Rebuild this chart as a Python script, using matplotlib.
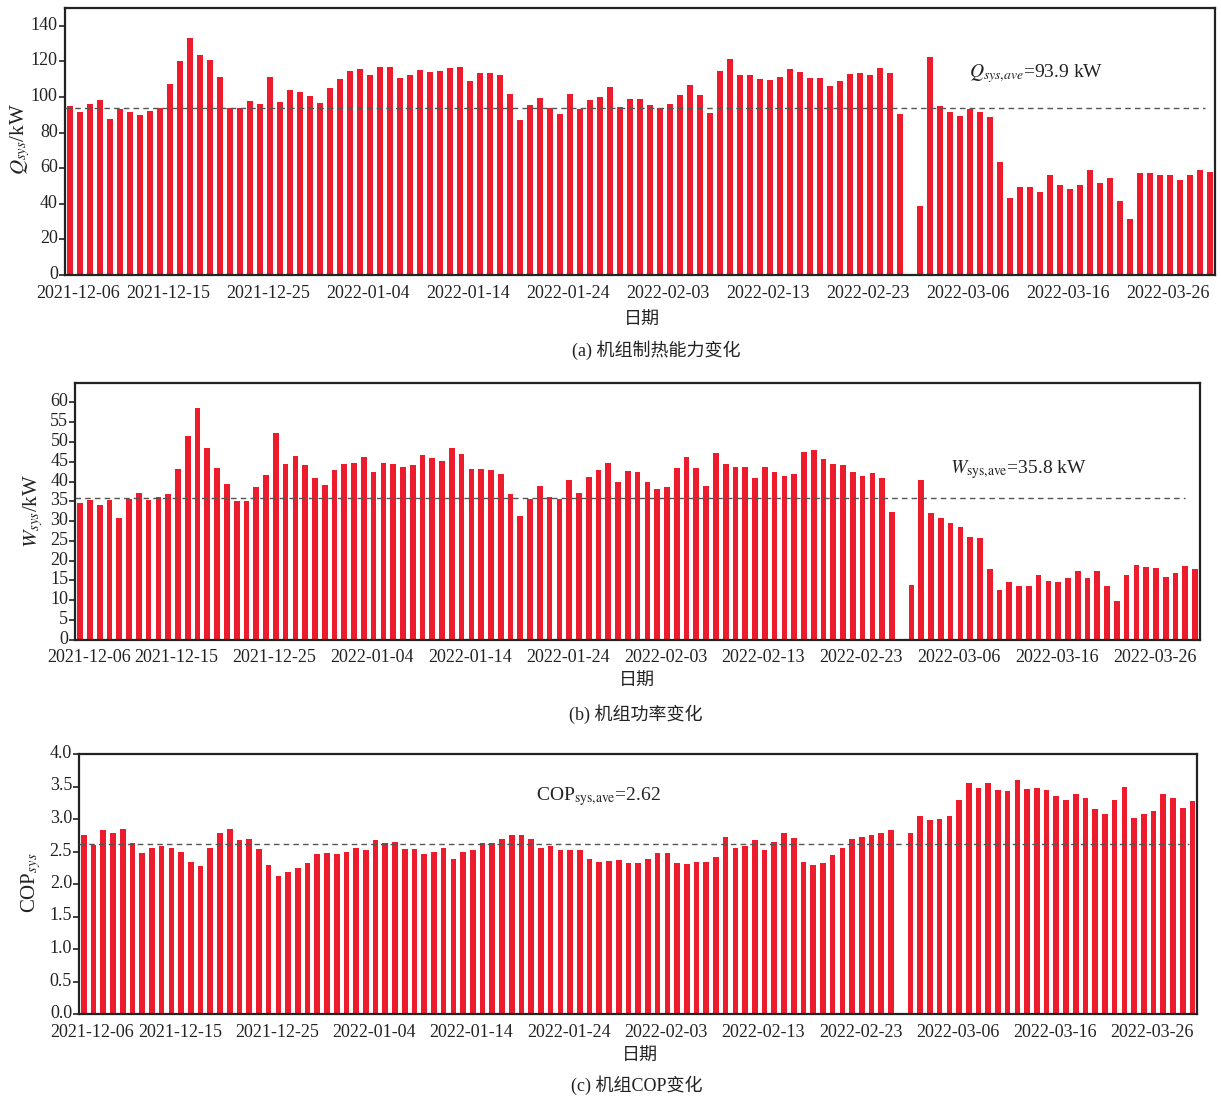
import numpy as np
import matplotlib
matplotlib.use("Agg")
import matplotlib.pyplot as plt
from matplotlib.transforms import ScaledTranslation

nan = np.nan

# Daily unit heating capacity (kW); the missing day is left empty
q_sys = [95.2, 91.7, 96.0, 98.4, 87.7, 93.3, 91.5, 89.8, 92.4, 94.1,
         107.1, 120.0, 133.1, 123.4, 120.8, 111.4, 93.9, 93.9, 97.8, 96.0,
         111.4, 97.4, 104.2, 102.9, 100.6, 96.7, 105.3, 110.3, 114.6, 115.7,
         112.6, 117.0, 117.0, 110.7, 112.2, 115.0, 113.9, 114.6, 116.1, 117.0,
         109.0, 113.3, 113.3, 112.6, 101.9, 86.8, 95.6, 99.7, 94.1, 90.2,
         101.9, 93.1, 98.2, 100.1, 105.8, 94.6, 98.9, 98.9, 95.4, 93.9,
         96.0, 101.0, 107.0, 101.0, 91.1, 114.4, 121.1, 112.2, 112.6, 110.1,
         109.8, 111.4, 115.5, 114.1, 110.9, 110.5, 106.4, 109.0, 112.9, 113.5,
         112.6, 116.3, 113.5, 90.5, nan, 38.6, 122.6, 95.2, 91.7, 89.6,
         93.5, 91.7, 88.9, 63.7, 43.1, 49.5, 49.5, 46.5, 56.0, 50.8,
         48.5, 50.8, 59.0, 51.5, 54.3, 41.4, 31.7, 57.1, 57.1, 56.0,
         56.4, 53.6, 56.0, 59.0, 58.1]

# Daily unit power input (kW)
w_sys = [34.6, 35.3, 34.0, 35.4, 30.9, 35.6, 37.1, 35.3, 36.1, 36.8,
         43.1, 51.4, 58.7, 48.5, 43.5, 39.4, 35.2, 35.1, 38.6, 41.6,
         52.4, 44.4, 46.5, 44.1, 41.0, 39.1, 42.8, 44.4, 44.7, 46.1,
         42.3, 44.6, 44.4, 43.6, 44.2, 46.7, 45.9, 45.2, 48.5, 47.0,
         43.1, 43.1, 43.0, 41.8, 36.9, 31.4, 35.6, 38.9, 36.2, 35.7,
         40.3, 37.1, 41.2, 42.8, 44.7, 39.9, 42.6, 42.3, 39.9, 38.1,
         38.7, 43.5, 46.2, 43.3, 38.9, 47.2, 44.4, 43.6, 43.7, 41.0,
         43.6, 42.3, 41.5, 42.0, 47.4, 47.9, 45.8, 44.4, 44.2, 42.4,
         41.5, 42.1, 40.9, 32.3, nan, 13.8, 40.4, 32.0, 30.7, 29.6,
         28.5, 25.9, 25.7, 18.0, 12.6, 14.6, 13.7, 13.5, 16.3, 14.8,
         14.6, 15.5, 17.5, 15.6, 17.3, 13.5, 9.7, 16.4, 19.0, 18.4,
         18.2, 15.9, 16.9, 18.7, 17.9]

# Daily unit COP
cop_sys = [2.76, 2.60, 2.83, 2.78, 2.84, 2.63, 2.48, 2.56, 2.58, 2.56,
           2.49, 2.34, 2.27, 2.55, 2.78, 2.84, 2.67, 2.69, 2.54, 2.30,
           2.13, 2.19, 2.24, 2.33, 2.46, 2.47, 2.46, 2.49, 2.56, 2.52,
           2.67, 2.63, 2.64, 2.54, 2.54, 2.46, 2.49, 2.55, 2.39, 2.50,
           2.53, 2.63, 2.63, 2.69, 2.75, 2.75, 2.69, 2.56, 2.58, 2.53,
           2.53, 2.52, 2.38, 2.34, 2.36, 2.37, 2.32, 2.33, 2.38, 2.47,
           2.48, 2.32, 2.31, 2.34, 2.34, 2.42, 2.72, 2.56, 2.58, 2.68,
           2.52, 2.64, 2.78, 2.71, 2.34, 2.29, 2.32, 2.45, 2.55, 2.69,
           2.72, 2.76, 2.78, 2.83, nan, 2.79, 3.05, 2.98, 3.00, 3.04,
           3.30, 3.55, 3.47, 3.55, 3.44, 3.43, 3.60, 3.46, 3.47, 3.45,
           3.36, 3.30, 3.38, 3.32, 3.15, 3.08, 3.30, 3.50, 3.01, 3.07,
           3.12, 3.38, 3.33, 3.17, 3.27]

# Period averages
q_ave = 93.9
w_ave = 35.8
cop_ave = 2.62

date_labels = ['2021-12-06', '2021-12-15', '2021-12-25', '2022-01-04',
               '2022-01-14', '2022-01-24', '2022-02-03', '2022-02-13',
               '2022-02-23', '2022-03-06', '2022-03-16', '2022-03-26']
date_ticks = [0, 9, 19, 29, 39, 49, 59, 69, 79, 89, 99, 109]

plt.rcParams['mathtext.fontset'] = 'stix'
plt.rcParams['font.family'] = ['Liberation Serif', 'Noto Sans CJK SC']

BAR = '#ED1C2C'
INK = '#222222'
CJK = ['Liberation Serif', 'Noto Sans CJK SC']

fig = plt.figure(figsize=(12.21, 10.97), dpi=100)
W, H = 1221, 1097


def add_axes(left, right, top, bottom):
    return fig.add_axes([left / W, 1 - bottom / H, (right - left) / W, (bottom - top) / H])


ax_a = add_axes(64.7, 1214.7, 8, 275)
ax_b = add_axes(75.3, 1200.0, 382.7, 639.7)
ax_c = add_axes(79.0, 1197.3, 754, 1014)

panels = [
    (ax_a, q_sys, q_ave, (0, 150), np.arange(0, 141, 20), '%d', 113.5),
    (ax_b, w_sys, w_ave, (0, 65), np.arange(0, 61, 5), '%d', 113.0),
    (ax_c, cop_sys, cop_ave, (0, 4.0), np.arange(0, 4.01, 0.5), '%.1f', 113.6),
]

x_shift = ScaledTranslation(8.5 / 100, 0, fig.dpi_scale_trans)
y_shift = ScaledTranslation(0, 2.5 / 100, fig.dpi_scale_trans)

for ax, vals, ave, ylim, yticks, fmt, line_end in panels:
    x = np.arange(len(vals))
    ax.bar(x, vals, width=0.58, color=BAR, edgecolor='none', zorder=2)
    ax.hlines(ave, -0.5, line_end, colors='#555555', linestyles=(0, (4, 3)),
              linewidth=1.0, zorder=3)
    ax.set_xlim(-0.5, len(vals) - 0.5)
    ax.set_ylim(*ylim)
    ax.set_yticks(yticks)
    ax.set_yticklabels([fmt % v for v in yticks])
    ax.set_xticks(date_ticks)
    ax.set_xticklabels(date_labels)
    for sp in ax.spines.values():
        sp.set_linewidth(1.6)
        sp.set_color(INK)
    ax.tick_params(axis='x', direction='in', length=5, width=1.6,
                   labelsize=13, pad=7, colors=INK)
    ax.tick_params(axis='y', direction='out', length=4, width=1.2,
                   labelsize=13, pad=1, colors=INK)
    ax.xaxis.get_major_ticks()[0].tick1line.set_visible(False)
    for lab in ax.get_xticklabels():
        lab.set_transform(lab.get_transform() + x_shift)
    for lab in ax.get_yticklabels():
        lab.set_transform(lab.get_transform() + y_shift)

# Average annotations
ax_a.text(0.786, 0.7395, r'$Q_{sys{,}ave}$=93.9 kW', transform=ax_a.transAxes,
          fontsize=14, ha='left', va='baseline', color=INK)
ax_b.text(0.778, 0.647, r'$W_{\mathrm{sys{,}ave}}$=35.8 kW', transform=ax_b.transAxes,
          fontsize=14, ha='left', va='baseline', color=INK)
ax_c.text(0.409, 0.823, r'COP$_{\mathrm{sys{,}ave}}$=2.62', transform=ax_c.transAxes,
          fontsize=14, ha='left', va='baseline', color=INK)

# Axis titles
fig.text(20 / W, 1 - 139 / H, r'$Q_{sys}$/kW', rotation=90, ha='center', va='center',
         fontsize=15, color=INK)
fig.text(33 / W, 1 - 511 / H, r'$W_{sys}$/kW', rotation=90, ha='center', va='center',
         fontsize=15, color=INK)
fig.text(31 / W, 1 - 883 / H, r'COP$_{sys}$', rotation=90, ha='center', va='center',
         fontsize=15, color=INK)

for cx, cy in [(642, 320), (637, 681), (640, 1056)]:
    fig.text(cx / W, 1 - cy / H, '日期', ha='center', va='center',
             fontsize=13, family=CJK, color=INK)

captions = [('(a) 机组制热能力变化', 656, 350),
            ('(b) 机组功率变化', 636, 714),
            ('(c) 机组COP变化', 637, 1085)]
for txt, cx, cy in captions:
    fig.text(cx / W, 1 - cy / H, txt, ha='center', va='center',
             fontsize=13, family=CJK, color=INK)

fig.savefig('out.png', dpi=100)
